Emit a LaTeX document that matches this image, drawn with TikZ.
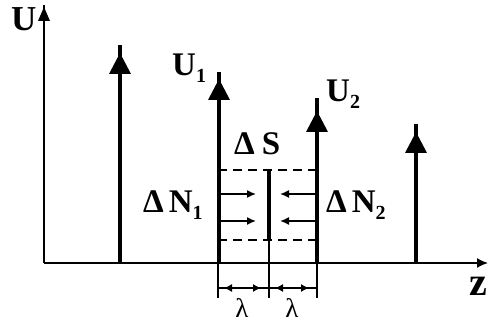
\documentclass[tikz,border=0pt]{standalone}
\usepackage{fontspec}
\setmainfont{Liberation Serif}
\usetikzlibrary{arrows.meta}
\begin{document}
\begin{tikzpicture}[x=1pt,y=-1pt,
  bar/.style={line width=4.5pt},
  midbar/.style={line width=4pt},
  axis/.style={line width=1.4pt},
  thinline/.style={line width=1.2pt},
  dashline/.style={line width=2.8pt,dash pattern=on 9pt off 6pt},
  flow/.style={line width=1.5pt,-{Latex[length=9pt,width=8pt]}},
  head/.style={fill=black},
  lbl/.style={inner sep=0pt,anchor=base west,font=\fontsize{33}{33}\selectfont\bfseries},
]
\useasboundingbox (0,0) rectangle (488,326);
% axes
\coordinate (O) at (44,263);
\coordinate (ytop) at (44,5);
\coordinate (xend) at (488,263);
\draw[axis] (O) -- (ytop);
\fill[head] (38,21) -- (44,7) -- (50,21) -- cycle;
\draw[axis,-{Latex[length=11pt,width=10pt]}] (O) -- (xend);
\node[lbl,font=\fontsize{35}{35}\selectfont\bfseries] (U) at (11,31) {U};
\node[lbl,font=\fontsize{40}{40}\selectfont\bfseries] (z) at (469,295) {z};
% vertical impulse arrows
\foreach \n/\x/\t/\b in {a/120/45/74, b/219/72/100, c/317/98/132, d/416/124/153}{
  \coordinate (\n0) at (\x,263);
  \coordinate (\n1) at (\x,\t);
  \draw[bar] (\n0) -- (\n1);
  \fill[head] (\x-11,\b) -- (\x,\b-21) -- (\x+11,\b) -- cycle;
}
\node[lbl] (U1) at (172,76) {U\raisebox{-7pt}{\fontsize{20}{20}\selectfont 1}};
\node[lbl] (U2) at (326,102) {U\raisebox{-7pt}{\fontsize{20}{20}\selectfont 2}};
% middle barrier
\coordinate (s1) at (269,170);
\coordinate (s2) at (269,240);
\draw[midbar] (s1) -- (s2);
\node[lbl] (dS) at (234,155) {Δ\hspace{7pt}S};
% dashed box
\coordinate (bl) at (218,170);
\coordinate (br) at (317,170);
\coordinate (cl) at (218,240);
\coordinate (cr) at (317,240);
\draw[dashline] (bl) -- (br);
\draw[dashline] (cl) -- (cr);
% flux arrows
\coordinate (fl1) at (219,194); \coordinate (fl1e) at (256,194);
\coordinate (fl2) at (219,221); \coordinate (fl2e) at (256,221);
\coordinate (fr1) at (317,194); \coordinate (fr1e) at (280,194);
\coordinate (fr2) at (317,221); \coordinate (fr2e) at (280,221);
\draw[flow] (fl1) -- (fl1e);
\draw[flow] (fl2) -- (fl2e);
\draw[flow] (fr1) -- (fr1e);
\draw[flow] (fr2) -- (fr2e);
\node[lbl] (dN1) at (143,213) {Δ\hspace{5pt}N\raisebox{-7pt}{\fontsize{20}{20}\selectfont 1}};
\node[lbl] (dN2) at (326,213) {Δ\hspace{5pt}N\raisebox{-7pt}{\fontsize{20}{20}\selectfont 2}};
% dimension lines
\coordinate (e1t) at (218,263); \coordinate (e1b) at (218,298);
\coordinate (e2t) at (269,240); \coordinate (e2b) at (269,298);
\coordinate (e3t) at (317,263); \coordinate (e3b) at (317,298);
\draw[thinline] (e1t) -- (e1b);
\draw[thinline] (e2t) -- (e2b);
\draw[thinline] (e3t) -- (e3b);
\coordinate (d1) at (218,288); \coordinate (d2) at (269,288); \coordinate (d3) at (317,288);
\draw[thinline] (d1) -- (d2) -- (d3);
\draw[thinline,{Latex[length=8pt,width=8pt]}-{Latex[length=8pt,width=8pt]},shorten <=6pt,shorten >=8pt] (d1) -- (d2);
\draw[thinline,{Latex[length=8pt,width=8pt]}-{Latex[length=8pt,width=8pt]},shorten <=6pt,shorten >=8pt] (d2) -- (d3);
\node[inner sep=0pt,anchor=base,font=\fontsize{27}{27}\selectfont] (l1) at (242,317) {λ};
\node[inner sep=0pt,anchor=base,font=\fontsize{27}{27}\selectfont] (l2) at (292,317) {λ};
\end{tikzpicture}
\end{document}
